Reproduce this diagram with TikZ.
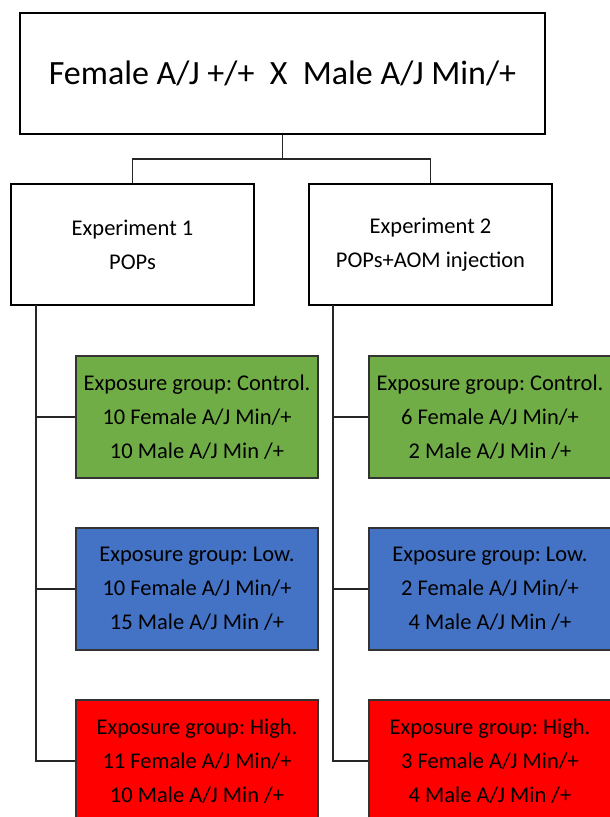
\documentclass[tikz,border=0pt]{standalone}
\usepackage{fontspec}
\setmainfont{Carlito}
\frenchspacing
\begin{document}
\begin{tikzpicture}[x=1bp,y=-1bp,
  box/.style={draw=black,line width=1.1bp,align=center,inner sep=0pt,
    font=\frenchspacing\fontsize{22.5bp}{33.8bp}\selectfont},
  topbox/.style={box,minimum width=525bp,minimum height=121bp,
    font=\frenchspacing\fontsize{34bp}{38bp}\selectfont},
  expbox/.style={box,minimum width=243bp,minimum height=121bp},
  grpbox/.style={box,draw=black!80,minimum width=242bp,minimum height=122bp},
  ctrl/.style={grpbox,fill=ctrlgreen},
  low/.style={grpbox,fill=lowblue},
  high/.style={grpbox,fill=highred},
  link/.style={draw=black!85,line width=1.5bp}]
\definecolor{ctrlgreen}{HTML}{70AD47}
\definecolor{lowblue}{HTML}{4472C4}
\definecolor{highred}{HTML}{FF0000}
\useasboundingbox (0,0) rectangle (610,817);
\fill[white] (0,0) rectangle (610,817);

\node[topbox] (top) at (282.5,73.5) {Female A/J +/+\ \ X\ \ Male A/J Min/+};
\node[expbox] (e1) at (132.5,244.5) {Experiment 1\\POPs};
\node[expbox] (e2) at (430.5,244.5) {Experiment 2\\POPs+AOM injection};

\node[ctrl] (g1) at (197,417) {Exposure group: Control.\\10 Female A/J Min/+\\10 Male A/J Min /+};
\node[low]  (b1) at (197,589) {Exposure group: Low.\\10 Female A/J Min/+\\15 Male A/J Min /+};
\node[high] (r1) at (197,761) {Exposure group: High.\\11 Female A/J Min/+\\10 Male A/J Min /+};

\node[ctrl] (g2) at (490,417) {Exposure group: Control.\\6 Female A/J Min/+\\2 Male A/J Min /+};
\node[low]  (b2) at (490,589) {Exposure group: Low.\\2 Female A/J Min/+\\4 Male A/J Min /+};
\node[high] (r2) at (490,761) {Exposure group: High.\\3 Female A/J Min/+\\4 Male A/J Min /+};

\coordinate (split) at (282.5,159);
\coordinate (t1) at (36,305);
\coordinate (t2) at (333,305);

\draw[link] (top.south) -- (split);
\draw[link] (split) -| (e1.north);
\draw[link] (split) -| (e2.north);

\draw[link] (t1) |- (r1.west);
\draw[link] (t1 |- g1.west) -- (g1.west);
\draw[link] (t1 |- b1.west) -- (b1.west);

\draw[link] (t2) |- (r2.west);
\draw[link] (t2 |- g2.west) -- (g2.west);
\draw[link] (t2 |- b2.west) -- (b2.west);
\end{tikzpicture}
\end{document}
